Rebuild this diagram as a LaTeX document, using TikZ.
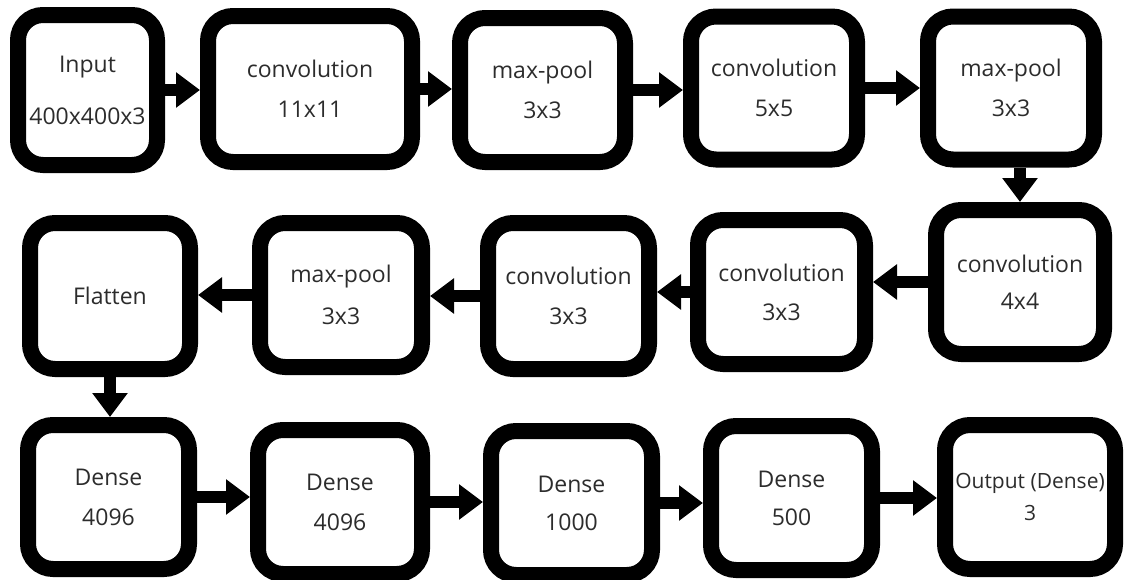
\documentclass[tikz,border=0pt]{standalone}
\usepackage{fontspec}
\setmainfont{Open Sans}
\usetikzlibrary{arrows.meta}
\definecolor{labelgray}{HTML}{2C2C2C}
\tikzset{layer/.style={draw=black, line width=16pt, rounded corners=25pt, fill=white,
                       align=center, text=labelgray, inner sep=0pt,
                       font=\fontsize{23}{27}\selectfont},
         flow/.style={line width=12pt, -{Triangle[length=24pt,width=34pt]}}}

\begin{document}
\begin{tikzpicture}[x=1pt,y=-1pt]
   \useasboundingbox (0,0) rectangle (1125,579);
   % first row, left to right
   \node[layer, minimum width=139pt, minimum height=150pt] (inp)   at (87.5,90)  {Input\\[25pt]400x400x3};
   \node[layer, minimum width=204pt, minimum height=146pt] (conv1) at (310,89)   {convolution\\[13pt]11x11};
   \node[layer, minimum width=165pt, minimum height=144pt] (pool1) at (542.5,90) {max-pool\\[13pt]3x3};
   \node[layer, minimum width=166pt, minimum height=143pt] (conv2) at (774,88)   {convolution\\[13pt]5x5};
   \node[layer, minimum width=166pt, minimum height=143pt] (pool2) at (1011,88)  {max-pool\\[13pt]3x3};
   % second row, right to left
   \node[layer, minimum width=168pt, minimum height=144pt] (conv5) at (1020,282)  {convolution\\[10pt]4x4};
   \node[layer, minimum width=167pt, minimum height=144pt] (conv4) at (781.5,292) {convolution\\[12pt]3x3};
   \node[layer, minimum width=161pt, minimum height=146pt] (conv3) at (568.5,296) {convolution\\[13pt]3x3};
   \node[layer, minimum width=162pt, minimum height=144pt] (pool3) at (341,295)   {max-pool\\[15pt]3x3};
   \node[layer, minimum width=160pt, minimum height=146pt] (flat)  at (110,296)   {Flatten};
   % third row, left to right
   \node[layer, minimum width=161pt, minimum height=144pt] (d1)  at (108.5,497) {Dense\\[13pt]4096};
   \node[layer, minimum width=164pt, minimum height=144pt] (d2)  at (340,502)   {Dense\\[13pt]4096};
   \node[layer, minimum width=161pt, minimum height=144pt] (d3)  at (571.5,503) {Dense\\[11pt]1000};
   \node[layer, minimum width=161pt, minimum height=144pt] (d4)  at (791.5,498) {Dense\\[11pt]500};
   \node[layer, minimum width=170pt, minimum height=144pt, font=\fontsize{21}{25}\selectfont]
        (out) at (1030,497) {Output (Dense)\\[7pt]3};

   \draw[flow] (inp.east)   -- (inp.east -| conv1.west);
   \draw[flow] (conv1.east) -- (conv1.east -| pool1.west);
   \draw[flow] (pool1.east) -- (pool1.east -| conv2.west);
   \draw[flow] (conv2.east) -- (conv2.east -| pool2.west);
   \draw[flow] (pool2.south -| conv5.north) -- (conv5.north);
   \draw[flow] (conv5.west) -- (conv5.west -| conv4.east);
   \draw[flow] (conv4.west) -- (conv4.west -| conv3.east);
   \draw[flow] (conv3.west) -- (conv3.west -| pool3.east);
   \draw[flow] (pool3.west) -- (pool3.west -| flat.east);
   \draw[flow] (flat.south) -- (flat.south |- d1.north);
   \draw[flow] (d1.east) -- (d1.east -| d2.west);
   \draw[flow] (d2.east) -- (d2.east -| d3.west);
   \draw[flow] (d3.east) -- (d3.east -| d4.west);
   \draw[flow] (d4.east) -- (d4.east -| out.west);
  \end{tikzpicture}
\end{document}
